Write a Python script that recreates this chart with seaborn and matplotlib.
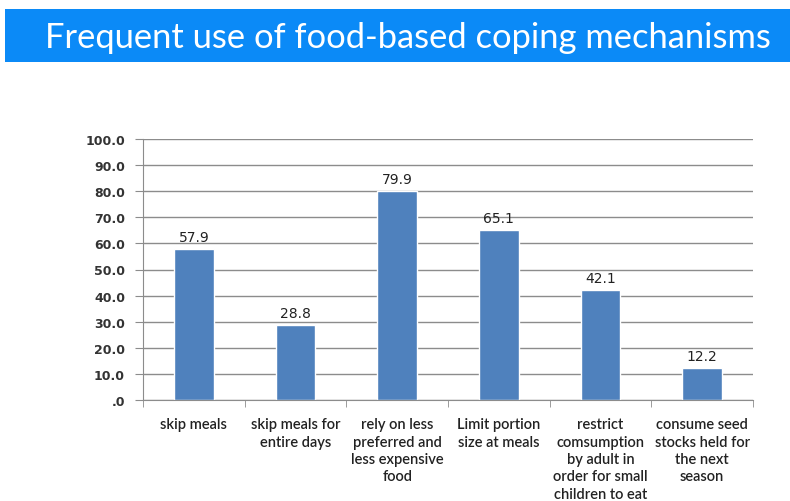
import matplotlib
matplotlib.use("Agg")
import matplotlib.pyplot as plt
import seaborn as sns
import pandas as pd
import numpy as np

categories = [
    "skip meals",
    "skip meals for\nentire days",
    "rely on less\npreferred and\nless expensive\nfood",
    "Limit portion\nsize at meals",
    "restrict\ncomsumption\nby adult in\norder for small\nchildren to eat",
    "consume seed\nstocks held for\nthe next\nseason",
]
values = [57.9, 28.8, 79.9, 65.1, 42.1, 12.2]
yticks = [0, 10, 20, 30, 40, 50, 60, 70, 80, 90, 100]
ytick_labels = [".0", "10.0", "20.0", "30.0", "40.0", "50.0", "60.0", "70.0", "80.0", "90.0", "100.0"]
title = "Frequent use of food-based coping mechanisms"

sns.set_style("white")
plt.rcParams['font.family'] = ['DejaVu Sans']

fig = plt.figure(figsize=(7.9, 5.02), dpi=100)

# banner
banner = fig.add_axes([5/790, 1 - 63/502, 785/790, 53/502])
banner.set_facecolor("#0b8af7")
banner.set_xticks([]); banner.set_yticks([])
for s in banner.spines.values():
    s.set_visible(False)
banner.text(0.051, 0.47, title, color="white", fontsize=24.8, family=["Lato", "DejaVu Sans"],
            ha="left", va="center", transform=banner.transAxes)

ax = fig.add_axes([143/790, 101/502, 610/790, 261/502])
df = pd.DataFrame({"cat": categories, "val": values})
sns.barplot(data=df, x="cat", y="val", color="#4f81bd", saturation=1, width=0.39, ax=ax)

ax.set_ylim(0, 100)
ax.set_xlim(-0.5, len(categories) - 0.5)
ax.set_yticks(yticks)
ax.set_yticklabels(ytick_labels, fontsize=9, fontweight="bold", color="#333333")
ax.yaxis.grid(True, color="#8c8c8c", linewidth=1)
ax.set_axisbelow(True)
ax.set_xlabel(""); ax.set_ylabel("")

for s in ["top", "right"]:
    ax.spines[s].set_visible(False)
ax.spines["left"].set_color("#8c8c8c")
ax.spines["bottom"].set_color("#8c8c8c")

ax.tick_params(axis="y", length=6, color="#8c8c8c", direction="out", pad=7, left=True)
# x ticks: labels at centers, tick marks between categories
ax.set_xticks(range(len(categories)))
ax.set_xticklabels(categories, fontsize=10.5, fontweight="semibold", family=["Lato", "DejaVu Sans"],
                   linespacing=1.3, va="top", color="#222222")
ax.tick_params(axis="x", length=0, pad=12.5)
ax.set_xticks(np.arange(-0.5, len(categories), 1.0), minor=True)
ax.tick_params(axis="x", which="minor", length=5, color="#8c8c8c", direction="out", bottom=True)

for i, v in enumerate(values):
    ax.text(i, v + 2.0, f"{v:.1f}", ha="center", va="bottom", fontsize=10, color="#222222")

fig.savefig("out.png", dpi=100)
